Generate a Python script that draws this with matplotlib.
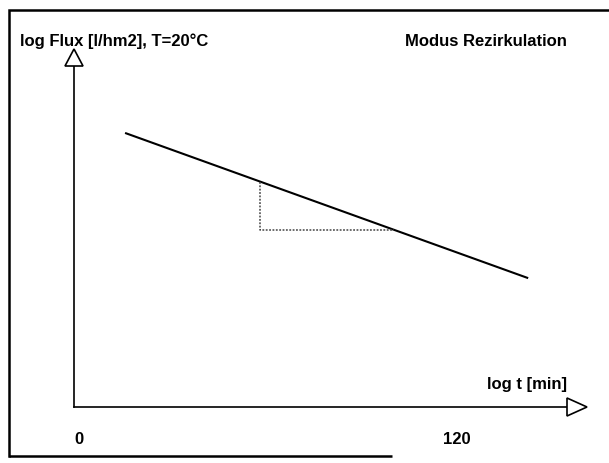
import matplotlib
matplotlib.use("Agg")
import matplotlib.pyplot as plt
from matplotlib.patches import Polygon

# Schematic: log flux declines linearly with log time (recirculation mode)
t_line = [16.0, 142.3]          # log t, start / end of the line
flux_line = [7.72, 3.63]        # log flux at those points
slope_t = [58.3]                # corner of the slope triangle (x)
slope_flux_low = [4.99]         # lower edge of the slope triangle (y)
tick_values = [0, 120]
tick_labels = ["0", "120"]

y_label = "log Flux [l/hm2], T=20°C"
x_label = "log t [min]"
mode_label = "Modus Rezirkulation"

W, H = 609, 463
fig = plt.figure(figsize=(W / 100, H / 100), dpi=100)
ax = fig.add_axes([0, 0, 1, 1])

# map data units onto the page: x=0 at px 74, x=120 at px 457; y=0 at px 407
px0, sx = 74.0, (457.0 - 74.0) / 120.0
py0, sy = 407.0, 35.5
ax.set_xlim(-px0 / sx, (W - px0) / sx)
ax.set_ylim(-(H - py0) / sy, py0 / sy)
ax.axis("off")

def dx(px):
    return px / sx

def dy(px):
    return px / sy

x_end = dx(567 - px0)
y_end = dy(py0 - 66)

# outer frame (left, top, bottom portion)
fx0, fx1 = dx(9 - px0), dx(W + 5 - px0)
fy_top, fy_bot = dy(py0 - 10), dy(py0 - 456)
ax.plot([fx0, fx0, fx1], [fy_bot, fy_top, fy_top], color="black", lw=1.8,
        solid_joinstyle="miter", clip_on=False)
ax.plot([fx0, dx(392 - px0)], [fy_bot, fy_bot], color="black", lw=1.8,
        solid_capstyle="butt")

# axes lines
ax.plot([0, 0], [0, y_end], color="black", lw=1.2)
ax.plot([0, x_end], [0, 0], color="black", lw=1.2)

# open arrow heads
hw, hl = 9.0, 17
ax.add_patch(Polygon([[dx(-hw), y_end], [dx(hw), y_end], [0, y_end + dy(hl)]],
                     closed=True, facecolor="white",
                     edgecolor="black", lw=1.2, zorder=3))
ax.add_patch(Polygon([[x_end, dy(-hw)], [x_end, dy(hw)], [x_end + dx(hl + 3), 0]],
                     closed=True, facecolor="white",
                     edgecolor="black", lw=1.2, zorder=3))

# the declining line
ax.plot(t_line, flux_line, color="black", lw=1.5, solid_capstyle="butt")

# dotted slope triangle
slope = (flux_line[1] - flux_line[0]) / (t_line[1] - t_line[0])
y_top = flux_line[0] + slope * (slope_t[0] - t_line[0])
x_right = t_line[0] + (slope_flux_low[0] - flux_line[0]) / slope
ax.plot([slope_t[0], slope_t[0], x_right],
        [y_top, slope_flux_low[0], slope_flux_low[0]],
        color="#444444", lw=1.1, linestyle=(0, (1.2, 1.0)))

font = dict(family="Liberation Sans", fontweight="bold", color="black")

ax.text(dx(20 - px0), dy(py0 - 41), y_label, fontsize=12, ha="left",
        va="center", **font)
ax.text(dx(405 - px0), dy(py0 - 41), mode_label, fontsize=12, ha="left",
        va="center", **font)
ax.text(dx(487 - px0), dy(py0 - 385), x_label, fontsize=12, ha="left",
        va="center", **font)

for v, lab in zip(tick_values, tick_labels):
    off = dx(5) if v == 0 else 0
    ax.text(v + off, dy(py0 - 439), lab, fontsize=12, ha="center",
            va="center", **font)

fig.savefig("out.png", dpi=100, facecolor="white")
